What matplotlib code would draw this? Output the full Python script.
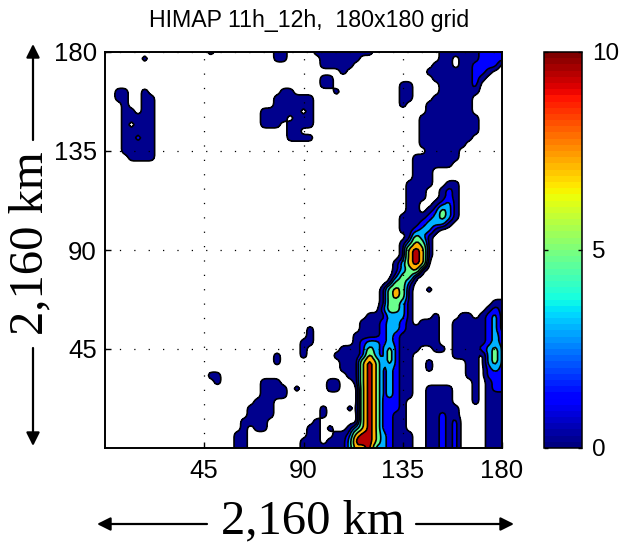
import numpy as np
import matplotlib
matplotlib.use('Agg')
import matplotlib.pyplot as plt

title = 'HIMAP 11h_12h,  180x180 grid'
span_label = '2,160 km'
grid_x = np.arange(0, 181, 3)
grid_y = np.arange(180, -1, -3)
ticks = [45, 90, 135, 180]
cbar_ticks = [0, 5, 10]
levels = [0.5, 1.5, 2.5, 4, 6, 8, 10]
band_values = [0.15, 1.2, 3.0, 4.8, 7.2, 9.5]

# rain, one row per y (180 at the top), one digit per x
rain_rows = [
    "00000 00000 00000 01000 00000 01100 00111 11111 10000 00000 01111 11222 2",
    "00000 01000 00000 00000 00000 01100 00011 11110 00000 00000 01101 11222 2",
    "00000 00000 00000 00000 00000 00000 00011 11100 00000 00000 11101 12222 0",
    "00000 00000 00000 00000 00000 00000 00000 01000 00000 00001 11111 12210 0",
    "00000 00000 00000 00000 00000 00000 00011 00000 00000 00000 11111 12100 0",
    "00000 00000 00000 00000 00000 00000 00011 00000 00000 11000 01111 12000 0",
    "00110 01000 00000 00000 00000 00110 00000 10000 00000 11000 01111 11000 0",
    "00110 01100 00000 00000 00000 01111 11000 00000 00000 11000 11111 10000 0",
    "00010 01100 00000 00000 00000 01111 11000 00000 00000 10001 11111 10000 0",
    "00011 01100 00000 00000 00001 11111 01000 00000 00000 00001 11111 10000 0",
    "00011 11100 00000 00000 00001 11101 11000 00000 00000 00011 11111 11000 0",
    "00010 11100 00000 00000 00001 11011 11000 00000 00000 00011 11111 11000 0",
    "00011 11100 00000 00000 00000 00011 00000 00000 00000 00011 11111 11000 0",
    "00011 21100 00000 00000 00000 00011 11000 00000 00000 00011 11111 10000 0",
    "00011 11100 00000 00000 00000 00000 00000 00000 00000 00011 11111 00000 0",
    "00011 11100 00000 00000 00000 00000 00000 00000 00000 00001 11110 00000 0",
    "00001 11100 00000 00000 00000 00000 00000 00000 00000 00111 11110 00000 0",
    "00000 00000 00000 00000 00000 00000 00000 00000 00000 00111 11100 00000 0",
    "00000 00000 00000 00000 00000 00000 00000 00000 00000 00111 00000 00000 0",
    "00000 00000 00000 00000 00000 00000 00000 00000 00000 00111 00000 00000 0",
    "00000 00000 00000 00000 00000 00000 00000 00000 00000 01111 00110 00000 0",
    "00000 00000 00000 00000 00000 00000 00000 00000 00000 01110 01210 00000 0",
    "00000 00000 00000 00000 00000 00000 00000 00000 00000 01110 01210 00000 0",
    "00000 00000 00000 00000 00000 00000 00000 00000 00000 01100 12310 00000 0",
    "00000 00000 00000 00000 00000 00000 00000 00000 00000 01101 25310 00000 0",
    "00000 00000 00000 00000 00000 00000 00000 00000 00000 11112 35310 00000 0",
    "00000 00000 00000 00000 00000 00000 00000 00000 00000 11123 33100 00000 0",
    "00000 00000 00000 00000 00000 00000 00000 00000 00000 11233 10000 00000 0",
    "00000 00000 00000 00000 00000 00000 00000 00000 00000 01531 00000 00000 0",
    "00000 00000 00000 00000 00000 00000 00000 00000 00000 13751 00000 00000 0",
    "00000 00000 00000 00000 00000 00000 00000 00000 00000 17971 00000 00000 0",
    "00000 00000 00000 00000 00000 00000 00000 00000 00000 17971 00000 00000 0",
    "00000 00000 00000 00000 00000 00000 00000 00000 00001 37970 00000 00000 0",
    "00000 00000 00000 00000 00000 00000 00000 00000 00001 35710 00000 00000 0",
    "00000 00000 00000 00000 00000 00000 00000 00000 00002 55100 00000 00000 0",
    "00000 00000 00000 00000 00000 00000 00000 00000 00015 52000 00000 00000 0",
    "00000 00000 00000 00000 00000 00000 00000 00000 00157 51001 00000 00000 0",
    "00000 00000 00000 00000 00000 00000 00000 00000 00157 51000 00000 00000 0",
    "00000 00000 00000 00000 00000 00000 00000 00000 00155 31000 00000 00001 1",
    "00000 00000 00000 00000 00000 00000 00000 00000 00255 31000 00000 00012 1",
    "00000 00000 00000 00000 00000 00000 00000 00000 11133 31000 10001 10123 1",
    "00000 00000 00000 00000 00000 00000 00000 00001 11233 21011 10011 11123 1",
    "00000 00000 00000 00000 00000 00000 01000 00001 11233 21111 10011 11123 1",
    "00000 00000 00000 00000 00000 00000 01000 00011 11232 11111 10011 11123 2",
    "00000 00000 00000 00000 00000 00000 11000 00012 33232 11111 10011 11123 2",
    "00000 00000 00000 00000 00000 00000 10000 01112 53252 11100 11011 11235 2",
    "00000 00000 00000 00000 00000 01000 10000 11112 73252 11000 00011 11035 2",
    "00000 00000 00000 00000 00000 01000 00000 01116 96252 11001 00000 11035 2",
    "00000 00000 00000 00000 00000 00000 00000 01116 96232 11001 00000 11023 2",
    "00000 00000 00000 01100 00000 00000 00000 00116 96232 11000 00000 11022 2",
    "00000 00000 00000 00100 00001 11000 00001 10016 96232 11000 00000 01012 2",
    "00000 00000 00000 00000 00001 11101 00001 10006 96232 11001 11100 01012 2",
    "00000 00000 00000 00000 00001 11100 00000 00006 96232 11001 11100 01011 1",
    "00000 00000 00000 00000 00011 10000 00000 00006 96222 10001 11100 01011 1",
    "00000 00000 00000 00000 00111 10000 00010 00106 96222 10001 11110 00011 1",
    "00000 00000 00000 00000 00111 10000 00010 00006 96221 10001 12110 00011 1",
    "00000 00000 00000 00000 01111 00000 00100 00006 96221 10001 12120 00011 1",
    "00000 00000 00000 00000 01011 00000 01101 00136 96221 10001 12120 00011 1",
    "00000 00000 00000 00000 11000 00000 01100 11279 96321 11001 12120 00011 1",
    "00000 00000 00000 00000 11000 00000 11101 11399 96321 11001 12120 00011 1",
    "00000 00000 00000 00000 11000 00000 11111 11377 93321 11001 12120 00011 1",
]

rain = np.array([[int(c) for c in row.replace(' ', '')] for row in rain_rows], dtype=float)


def soften(field, k=3):
    # round off the coarse cells so contours are not diamonds
    fine = np.repeat(np.repeat(field, k, axis=0), k, axis=1)
    box = np.ones(k) / k
    for _ in range(2):
        for axis in (0, 1):
            fine = np.apply_along_axis(lambda r: np.convolve(np.pad(r, k, mode='edge'), box, mode='same')[k:-k], axis, fine)
    return fine


fine_rain = soften(rain)
fine_x = np.linspace(-1, 181, fine_rain.shape[1])
fine_y = np.linspace(181, -1, fine_rain.shape[0])

plt.rcParams['font.family'] = ['Liberation Sans', 'DejaVu Sans']
W, H = 620, 542
fig = plt.figure(figsize=(W / 100, H / 100), dpi=100)


def px_axes(left, top, right, bottom):
    return fig.add_axes([left / W, 1 - bottom / H, (right - left) / W, (bottom - top) / H])


ax = px_axes(105, 52, 502, 448)
jet = plt.get_cmap('jet')
band_colors = [jet(v / 10) for v in band_values]
ax.contourf(fine_x, fine_y, fine_rain, levels=levels, colors=band_colors)
ax.contour(fine_x, fine_y, fine_rain, levels=levels[:-1], colors='k', linewidths=1.2)
ax.set_xlim(0, 180)
ax.set_ylim(0, 180)
ax.set_xticks(ticks)
ax.set_yticks(ticks)
ax.tick_params(direction='in', length=4, width=1, labelsize=18.5, pad=6)
ax.tick_params(axis='x', pad=8)
ax.grid(True, color='k', linewidth=0.9, linestyle=(0, (1, 10.5)))
ax.set_axisbelow(False)
for s in ax.spines.values():
    s.set_linewidth(1.4)
fig.text(309 / W, 1 - 20 / H, title, ha='center', va='center', fontsize=16.7)

# colorbar
cax = px_axes(544, 52, 582, 448)
sm = plt.cm.ScalarMappable(norm=plt.Normalize(0, 10), cmap=plt.get_cmap('jet', 64))
cbar = fig.colorbar(sm, cax=cax, ticks=cbar_ticks)
cbar.outline.set_linewidth(1.1)
cax.tick_params(direction='in', length=3, width=1, left=True, right=True, labelsize=17.5, pad=7)

# span annotations, in pixels of the figure
overlay = fig.add_axes([0, 0, 1, 1], facecolor='none')
overlay.set_xlim(0, W)
overlay.set_ylim(H, 0)
overlay.axis('off')
arrow = dict(arrowstyle='-|>', color='k', lw=1.6, mutation_scale=20, shrinkA=0, shrinkB=0)
overlay.annotate('', xy=(97, 524), xytext=(207, 524), arrowprops=arrow)
overlay.annotate('', xy=(514, 524), xytext=(416, 524), arrowprops=arrow)
overlay.annotate('', xy=(33, 44), xytext=(33, 140), arrowprops=arrow)
overlay.annotate('', xy=(33, 446), xytext=(33, 348), arrowprops=arrow)
overlay.text(313, 521, span_label, ha='center', va='center', fontsize=35, family='Liberation Serif')
overlay.text(30, 243, span_label, ha='center', va='center', fontsize=35, rotation=90, family='Liberation Serif')

fig.savefig('out.png', dpi=100)
